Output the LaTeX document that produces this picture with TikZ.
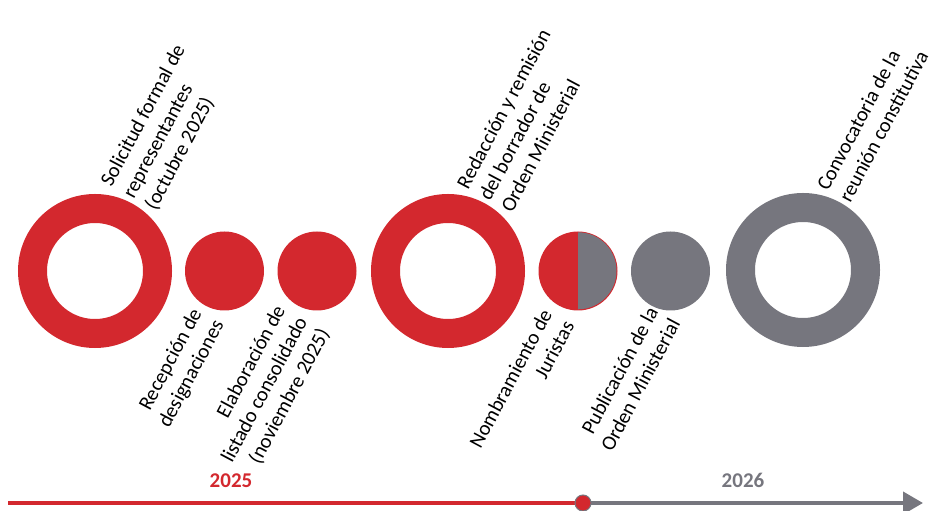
\documentclass[tikz,border=0pt]{standalone}
\usepackage{fontspec}
\setmainfont{Carlito}
\usetikzlibrary{calc,arrows.meta}
\definecolor{tlred}{RGB}{211,40,46}
\definecolor{tlgray}{RGB}{118,118,126}
\tikzset{
bigring/.style={
  circle,draw=#1,line width=29pt,inner sep=0pt,minimum size=125pt},
smalldot/.style={
  circle,fill=#1,inner sep=0pt,minimum size=79pt},
uplbl/.style={
  rotate=62,anchor=south west,align=left,inner sep=0pt,
  font=\fontsize{20.6}{25}\selectfont},
downlbl/.style={
  rotate=62,anchor=north east,align=right,inner sep=0pt,
  font=\fontsize{20.6}{25}\selectfont},
yearlbl/.style={
  font=\bfseries\fontsize{21}{25}\selectfont,text=#1}}

\begin{document}
\begin{tikzpicture}[x=1pt,y=1pt]
\useasboundingbox (0,0) rectangle (929,511);

% milestones
\node[bigring=tlred] (sol) at (95,240) {};
\node[smalldot=tlred] (rec) at (224.5,240) {};
\node[smalldot=tlred] (ela) at (317,240) {};
\node[bigring=tlred] (red) at (448,240) {};
\node[smalldot=tlred] (nom) at (578,240) {};
\fill[tlgray] ([yshift=-1pt]nom.north) arc (90:-90:38.5) -- cycle;
\node[smalldot=tlgray] (pub) at (670.5,240) {};
\node[bigring=tlgray] (con) at (803,241) {};

\node[uplbl] (lsol) at ($(sol)+(63.5,58)$) {Solicitud formal de\\representantes\\(octubre 2025)};
\node[downlbl] (lrec) at ($(rec)+(-35,-35)$) {Recepción de\\designaciones};
\node[downlbl] (lela) at ($(ela)+(-44,-32)$) {Elaboración de\\listado consolidado\\(noviembre 2025)};
\node[uplbl] (lred) at ($(red)+(64.5,57)$) {Redacción y remisión\\del borrador de\\Orden Ministerial};
\node[downlbl] (lnom) at ($(nom)+(-38,-36)$) {Nombramiento de\\Juristas};
\node[downlbl] (lpub) at ($(pub)+(-24.5,-34)$) {Publicación de la\\Orden Ministerial};
\node[uplbl] (lcon) at ($(con)+(47.5,66)$) {Convocatoria de la\\reunión constitutiva};

% time axis
\coordinate (tstart) at (8,8);
\coordinate (now) at (583,8);
\coordinate (tend) at (923,8);
\draw[tlred,line width=4pt] (tstart) -- (now);
\draw[tlgray,line width=4pt,-{Triangle[length=20pt,width=22pt]}] (now) -- (tend);
\node[circle,fill=tlred,draw=tlgray,line width=1pt,inner sep=0pt,minimum size=16pt] (nowdot) at (now) {};

\node[yearlbl=tlred] (y25) at (231,30) {2025};
\node[yearlbl=tlgray] (y26) at (743,31) {2026};

\end{tikzpicture}
\end{document}
